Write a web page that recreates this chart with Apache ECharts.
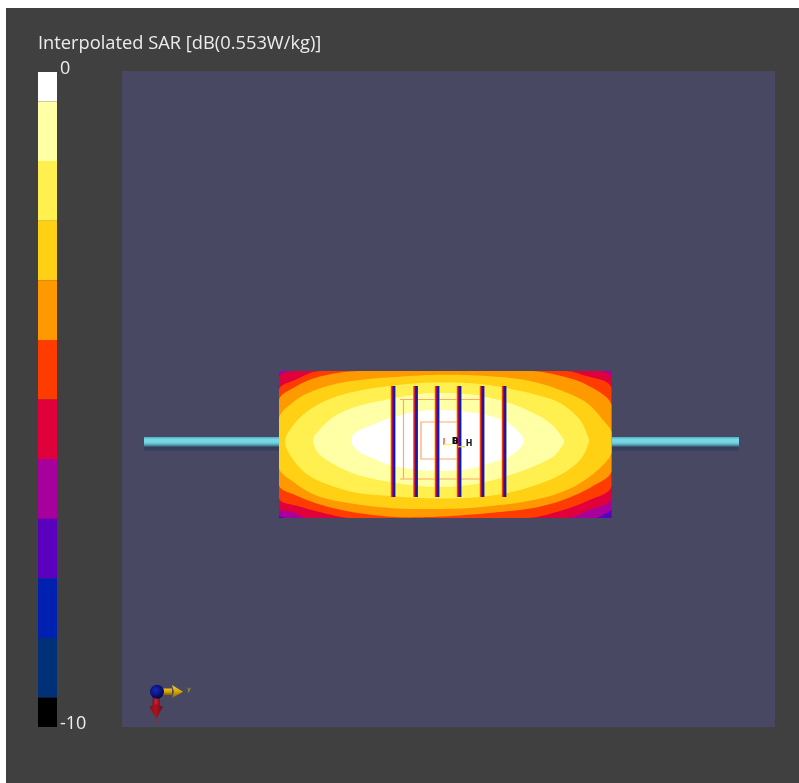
<!DOCTYPE html>
<html><head><meta charset="utf-8">
<style>
html,body{margin:0;padding:0;background:#fff;width:799px;height:783px;overflow:hidden}
#dark{position:absolute;left:6px;top:8px;right:0;bottom:0;background:#404040}
#chart{position:absolute;left:0;top:0;width:799px;height:783px}
</style>
<script src="https://cdn.jsdelivr.net/npm/echarts@6/dist/echarts.min.js"></script>
</head><body><div id="dark"></div><div id="chart"></div>
<script>
const titleText = 'Interpolated SAR [dB(0.553W/kg)]';
const barTicks = [-10, 0];
const bandEdges = [0, -0.45, -1.36, -2.27, -3.18, -4.09, -5, -5.91, -6.82, -7.73, -8.64, -9.55, -10];
const bandColors = ['#ffffff','#ffffa6','#fff050','#ffd014','#ff9900','#ff3c00','#e0003c','#a8009c','#5c00c0','#0020b0','#003078','#000000'];

const patchBox = [[-166,-73],[166.5,-73],[166.5,74],[-166,74]];
const violetRight = [[166.5,66],[152,74],[166.5,74]];
const violetLeft = [[-166,72],[-160,74],[-166,74]];
const crimsonLine = [[-166,-66],[-150,-73],[153,-73],[166.5,-66],[166.5,54],[142,67],[122,74],[-137,74],[-153,68],[-166,64]];
const redLine = [[-166,-54],[-150,-64],[-125,-73],[120,-73],[138,-69],[166.5,-56],[166.5,42],[142,57],[115,67],[82,74],[-95,74],[-113,71],[-147,62],[-166,54]];
const orangeLine = [[-166,-44],[-150,-57],[-127,-67],[-87,-73],[85,-73],[112,-69],[142,-59],[166.5,-39],[166.5,27],[148,42],[118,56],[88,64],[55,68],[20,71],[-15,73],[-50,73],[-87,69],[-120,62],[-150,51],[-166,41]];
const goldLine = [[-166,-26],[-153,-41],[-137,-51],[-110,-60],[-77,-65],[-50,-67],[-15,-69],[20,-69],[55,-67],[85,-63],[115,-54],[142,-41],[158,-24],[166.5,-12],[166.5,9],[155,24],[132,41],[105,52],[72,59],[55,61],[25,64],[-15,65],[-55,64],[-103,58],[-130,51],[-153,37],[-166,24]];
const yellowLine = [[-160,-3],[-150,-21],[-133,-36],[-110,-47],[-83,-54],[-55,-58],[-25,-61],[5,-61.5],[35,-60],[61,-56],[88,-50],[115,-41],[135,-24],[143,-7],[144,-2],[135,16],[115,31],[88,42],[62,49],[35,53],[5,54.5],[-25,54],[-55,52],[-87,49],[-113,42],[-137,31],[-153,14]];
const paleLine = [[-132,-3],[-130,-9],[-113,-26],[-90,-37],[-55,-45],[-25,-50],[0,-51],[30,-49],[61,-42],[82,-34],[105,-21],[117,-7],[119,-2],[110,11],[92,21],[62,32],[30,40],[0,43],[-25,42],[-55,38],[-87,31],[-110,21],[-127,9]];
const whiteLine = [[-94,-3],[-90,-11],[-73,-19],[-55,-26],[-25,-33],[0,-34],[25,-32],[45,-28],[61,-22],[72,-14],[79,-3],[72,7],[61,14],[45,19],[25,25],[0,27],[-25,26],[-55,21],[-73,14],[-87,7]];

const rodSpans = [[-301,-166],[166.5,294]];
const rodEdges = [-7, 6.5];
const coilCentres = [-52,-29.5,-8,14,37,59];
const coilEdges = [-58, 53];
const coilHalf = 2.5;
const wirePaths = [
  [[37,-44.5],[-45,-44.5]], [[-41.5,-44.5],[-41.5,35]], [[-45,35],[37,35]],
  [[13,-22],[-24,-22],[-24,15],[13,15]]
];
const tickPaths = [
  {color:'#ff3030', pts:[[-1,-6],[-1,1]]},
  {color:'#ffff30', pts:[[-1,0.5],[6,0.5]]},
  {color:'#e0d060', pts:[[13,2.7],[20,2.7]]}
];
const probeLabels = [['D',10,-2.5,'#111'],['B',10.5,-2.5,'#111'],['H',24,0,'#222']];
const triadHub = [-288,247.7];
const yShaft = [[-282,244.5],[-273,244.5],[-273,251],[-282,251]];
const yHead = [[-273,241],[-262,247.7],[-273,254],[-271,247.7]];
const xShaft = [[-292.3,253],[-285,253],[-285,264],[-292.3,264]];
const xHead = [[-295.7,262.7],[-288.5,260],[-282.3,262.7],[-288.5,275]];
const triadLabels = [['y',-256,245.5,'#c8b020'],['x',-287,278,'#b02020']];

const G = echarts.graphic;
// Rounds the outline of a read contour when it is drawn, and keeps it inside the patch.
function rounded(px, lo, hi){
  const n = px.length, out = [];
  const cl = (v,a,b)=>Math.min(b,Math.max(a,v));
  const len = (u,v)=>Math.hypot(u[0]-v[0],u[1]-v[1]);
  for (let i=0;i<n;i++){
    const a=px[(i-1+n)%n], b=px[i], c=px[(i+1)%n], d=px[(i+2)%n];
    const ab=len(a,b), bc=len(b,c), cd=len(c,d);
    const mb=[(c[0]-a[0])*bc/(ab+bc),(c[1]-a[1])*bc/(ab+bc)];
    const mc=[(d[0]-b[0])*bc/(bc+cd),(d[1]-b[1])*bc/(bc+cd)];
    for (let k=0;k<10;k++){
      const t=k/10, t2=t*t, t3=t2*t;
      const f=j=>(2*t3-3*t2+1)*b[j]+(t3-2*t2+t)*mb[j]+(3*t2-2*t3)*c[j]+(t3-t2)*mc[j];
      out.push([cl(f(0),lo[0],hi[0]), cl(f(1),lo[1],hi[1])]);
    }
  }
  return out;
}
function poly(pts, color, name, curve){
  return {type:'custom', name, xAxisIndex:0, yAxisIndex:0, silent:true, clip:false, data:[0],
    renderItem:(p,api)=>{
      const px=pts.map(q=>api.coord(q));
      const lo=api.coord(patchBox[0]), hi=api.coord(patchBox[2]);
      return {type:'polygon', shape:{points:curve?rounded(px,lo,hi):px},
        style:{fill:typeof color==='function'?color():color}};
    }};
}
const vgrad = (stops)=>new G.LinearGradient(0,0,0,1,stops.map(c=>({offset:c[0],color:c[1]})));
const hgrad = (stops)=>new G.LinearGradient(0,0,1,0,stops.map(c=>({offset:c[0],color:c[1]})));

const series = [
  {type:'custom', name:'colour bar', xAxisIndex:1, yAxisIndex:1, silent:true,
   data:bandColors.map((c,i)=>[0,1,bandEdges[i],bandEdges[i+1]]),
   renderItem:(p,api)=>{
     const a=api.coord([api.value(0),api.value(2)]), b=api.coord([api.value(1),api.value(3)]);
     return {type:'rect',shape:{x:a[0],y:a[1],width:b[0]-a[0],height:b[1]-a[1]},style:{fill:bandColors[p.dataIndex]}};
   }, encode:{x:[0,1],y:[2,3]}},
  {type:'custom', name:'rods', xAxisIndex:0, yAxisIndex:0, silent:true, clip:false, data:rodSpans,
   renderItem:(p,api)=>{
     const a=api.coord([api.value(0),rodEdges[0]]), b=api.coord([api.value(1),rodEdges[1]]);
     return {type:'rect',shape:{x:a[0],y:a[1],width:b[0]-a[0],height:b[1]-a[1]},
       style:{fill:vgrad([[0,'#55aebc'],[0.2,'#78dcea'],[0.45,'#6fd0de'],[0.62,'#4f8f9e'],[0.75,'#33405f'],[1,'#3a3a5c']])}};
   }, encode:{x:[0,1]}},
  poly(patchBox,'#a8009c','purple'),
  poly(violetRight,'#5c00c0','violet right'),
  poly(violetLeft,'#5c00c0','violet left'),
  poly(crimsonLine,'#e0003c','crimson',true),
  poly(redLine,'#ff3c00','red',true),
  poly(orangeLine,'#ff9900','orange',true),
  poly(goldLine,'#ffd014','gold',true),
  poly(yellowLine,'#fff050','yellow',true),
  poly(paleLine,'#ffffa6','pale',true),
  poly(whiteLine,'#ffffff','white',true),
  {type:'custom', name:'wires', xAxisIndex:0, yAxisIndex:0, silent:true, clip:false, data:wirePaths.map((w,i)=>[i]),
   renderItem:(p,api)=>({type:'polyline',shape:{points:wirePaths[p.dataIndex].map(q=>api.coord(q))},
     style:{stroke:'#ffa868',lineWidth:1.2,fill:null}})},
  {type:'custom', name:'coils', xAxisIndex:0, yAxisIndex:0, silent:true, clip:false, data:coilCentres.map(c=>[c]),
   renderItem:(p,api)=>{
     const a=api.coord([api.value(0)-coilHalf,coilEdges[0]]), b=api.coord([api.value(0)+coilHalf,coilEdges[1]]);
     return {type:'rect',shape:{x:a[0],y:a[1],width:b[0]-a[0],height:b[1]-a[1]},
       style:{fill:hgrad([[0,'#ffb000'],[0.2,'#f04010'],[0.4,'#b00060'],[0.6,'#301090'],[0.8,'#0020b0'],[1,'#3040a8']])}};
   }, encode:{x:0}},
  {type:'custom', name:'probe ticks', xAxisIndex:0, yAxisIndex:0, silent:true, clip:false, data:tickPaths.map((w,i)=>[i]),
   renderItem:(p,api)=>({type:'polyline',shape:{points:tickPaths[p.dataIndex].pts.map(q=>api.coord(q))},
     style:{stroke:tickPaths[p.dataIndex].color,lineWidth:1.2,fill:null}})},
  {type:'custom', name:'probe labels', xAxisIndex:0, yAxisIndex:0, silent:true, clip:false, data:probeLabels.map(l=>[l[1],l[2]]),
   renderItem:(p,api)=>{
     const l=probeLabels[p.dataIndex], c=api.coord([l[1],l[2]]);
     return {type:'text',x:c[0],y:c[1],style:{text:l[0],fill:l[3],font:'bold 8px "DejaVu Sans"',align:'center',verticalAlign:'middle'}};
   }, encode:{x:0,y:1}},
  poly(yShaft,()=>vgrad([[0,'#f0c020'],[0.5,'#d8a000'],[1,'#806000']]),'y shaft'),
  poly(yHead,()=>vgrad([[0,'#f0d040'],[0.5,'#d8a800'],[1,'#806400']]),'y head'),
  poly(xShaft,()=>hgrad([[0,'#701018'],[0.4,'#d02030'],[1,'#801018']]),'x shaft'),
  poly(xHead,()=>hgrad([[0,'#801018'],[0.5,'#b01020'],[1,'#601018']]),'x head'),
  {type:'custom', name:'triad hub', xAxisIndex:0, yAxisIndex:0, silent:true, clip:false, data:[triadHub],
   renderItem:(p,api)=>{
     const c=api.coord([api.value(0),api.value(1)]);
     return {type:'circle',shape:{cx:c[0],cy:c[1],r:api.size([7,0])[0]},
       style:{fill:new G.RadialGradient(0.4,0.4,0.6,[{offset:0,color:'#1a28c0'},{offset:1,color:'#000850'}])}};
   }, encode:{x:0,y:1}},
  {type:'custom', name:'triad labels', xAxisIndex:0, yAxisIndex:0, silent:true, clip:false, data:triadLabels.map(l=>[l[1],l[2]]),
   renderItem:(p,api)=>{
     const l=triadLabels[p.dataIndex], c=api.coord([l[1],l[2]]);
     return {type:'text',x:c[0],y:c[1],style:{text:l[0],fill:l[3],font:'6px "DejaVu Sans"',align:'center',verticalAlign:'middle'}};
   }, encode:{x:0,y:1}}
];

const chart = echarts.init(document.getElementById('chart'), null, {renderer:'canvas'});
chart.setOption({
  animation:false,
  backgroundColor:'transparent',
  title:{text:titleText,left:38,top:35,padding:0,textStyle:{color:'#ececec',fontSize:18.3,fontWeight:'normal',fontFamily:'"Open Sans"'}},
  grid:[
    {left:122,top:71,width:653,height:656,show:true,backgroundColor:'#484862',borderWidth:0},
    {left:38,top:72,width:19,height:655,show:false}
  ],
  xAxis:[
    {type:'value',gridIndex:0,min:-323,max:330,show:false},
    {type:'value',gridIndex:1,min:0,max:1,show:false}
  ],
  yAxis:[
    {type:'value',gridIndex:0,min:-373,max:283,inverse:true,show:false},
    {type:'value',gridIndex:1,min:barTicks[0],max:barTicks[1],interval:10,position:'right',
     axisLine:{show:false},axisTick:{show:false},splitLine:{show:false},
     axisLabel:{show:true,margin:3,formatter:'{a|{value}}',
       rich:{a:{color:'#ececec',fontSize:18,fontFamily:'"Open Sans"',padding:[0,0,7,0]}}}}
  ],
  series
});
</script></body></html>
